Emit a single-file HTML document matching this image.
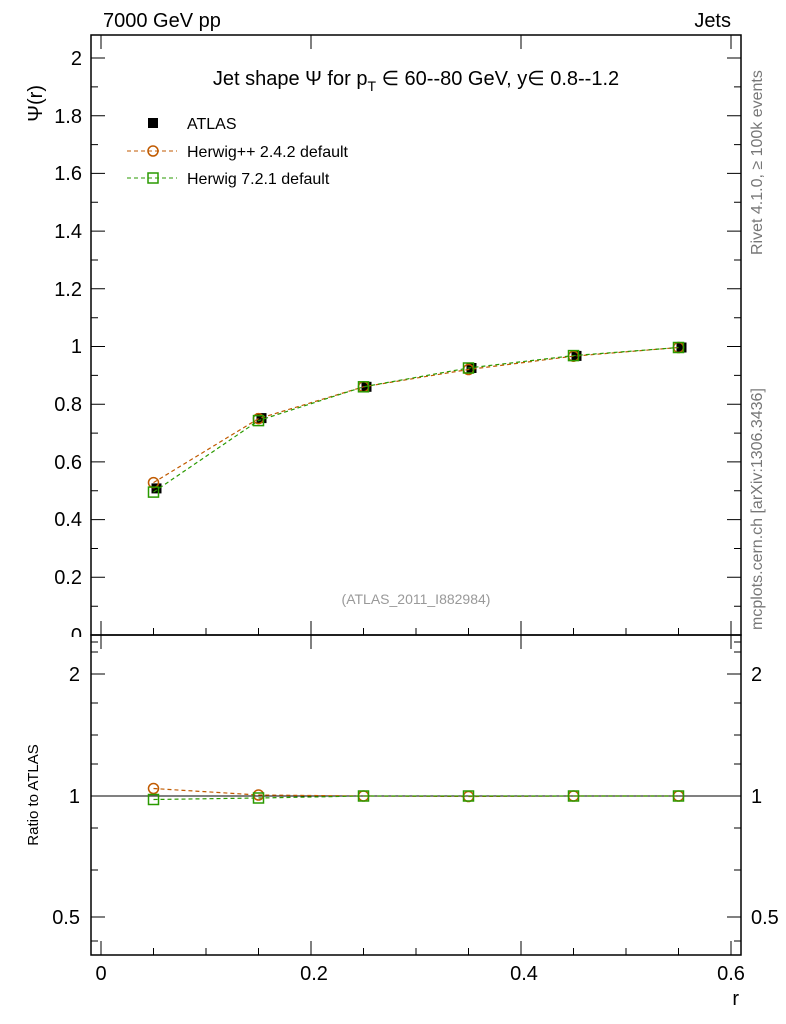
<!DOCTYPE html>
<html><head><style>body{margin:0;background:#fff}svg{display:block}text{font-family:"Liberation Sans",sans-serif}</style></head><body>
<svg width="786" height="1024" xmlns="http://www.w3.org/2000/svg">
<rect width="786" height="1024" fill="#fff"/>
<text x="103" y="27" font-size="20">7000 GeV pp</text>
<text x="731" y="27" font-size="20" text-anchor="end">Jets</text>
<rect x="91" y="35" width="650" height="600" fill="none" stroke="#000" stroke-width="1.5"/>
<rect x="91" y="635" width="650" height="320" fill="none" stroke="#000" stroke-width="1.5"/>
<g stroke="#000" stroke-width="1">
<path d="M101,635v-14M311,635v-14M521,635v-14M731,635v-14M101,35v14M311,35v14M521,35v14M731,35v14
M101,955v-14M311,955v-14M521,955v-14M731,955v-14M101,635v14M311,635v14M521,635v14M731,635v14
M153.5,635v-7M206,635v-7M258.5,635v-7M363.5,635v-7M416,635v-7M468.5,635v-7M573.5,635v-7M626,635v-7M678.5,635v-7
M153.5,955v-7M206,955v-7M258.5,955v-7M363.5,955v-7M416,955v-7M468.5,955v-7M573.5,955v-7M626,955v-7M678.5,955v-7"/>
<path d="M91,635h14M91,577.3h14M91,519.6h14M91,461.9h14M91,404.2h14M91,346.5h14M91,288.8h14M91,231.1h14M91,173.4h14M91,115.7h14M91,58h14
M741,635h-14M741,577.3h-14M741,519.6h-14M741,461.9h-14M741,404.2h-14M741,346.5h-14M741,288.8h-14M741,231.1h-14M741,173.4h-14M741,115.7h-14M741,58h-14
M91,606.2h7M91,548.5h7M91,490.8h7M91,433.1h7M91,375.4h7M91,317.7h7M91,260h7M91,202.3h7M91,144.6h7M91,86.9h7
M741,606.2h-7M741,548.5h-7M741,490.8h-7M741,433.1h-7M741,375.4h-7M741,317.7h-7M741,260h-7M741,202.3h-7M741,144.6h-7M741,86.9h-7"/>
<path d="M91,674h14M91,796h14M91,917h14M741,674h-14M741,796h-14M741,917h-14
M91,652h7M91,642h7M91,703h7M91,735h7M91,764h7M91,828h7M91,870h7M91,941h7
M741,652h-7M741,642h-7M741,703h-7M741,735h-7M741,764h-7M741,828h-7M741,870h-7M741,941h-7"/>
<path d="M91,796H741"/>
</g>
<g font-size="20" text-anchor="end">
<text x="82" y="642">0</text><text x="82" y="584">0.2</text><text x="82" y="526">0.4</text><text x="82" y="469">0.6</text><text x="82" y="411">0.8</text><text x="82" y="353">1</text><text x="82" y="296">1.2</text><text x="82" y="238">1.4</text><text x="82" y="180">1.6</text><text x="82" y="123">1.8</text><text x="82" y="65">2</text>
<text x="80" y="681">2</text><text x="80" y="803">1</text><text x="80" y="924">0.5</text>
</g>
<rect x="60" y="637" width="28" height="12" fill="#fff"/>
<g font-size="20">
<text x="751" y="681">2</text><text x="751" y="803">1</text><text x="751" y="924">0.5</text>
</g>
<g font-size="20" text-anchor="middle">
<text x="101" y="980">0</text><text x="314" y="980">0.2</text><text x="524" y="980">0.4</text><text x="731" y="980">0.6</text>
</g>
<text x="739" y="1005" font-size="20" text-anchor="end">r</text>
<text transform="translate(42,85) rotate(-90)" font-size="20" text-anchor="end">Ψ(r)</text>
<text transform="translate(38,795) rotate(-90)" font-size="15" text-anchor="middle">Ratio to ATLAS</text>
<text transform="translate(762,255) rotate(-90)" font-size="16" fill="#777">Rivet 4.1.0, ≥ 100k events</text>
<text transform="translate(762,630) rotate(-90)" font-size="16" fill="#777">mcplots.cern.ch [arXiv:1306.3436]</text>
<text x="416" y="85" font-size="20" text-anchor="middle">Jet shape Ψ for p<tspan font-size="14" dy="6">T</tspan><tspan dy="-6"> ∈ 60--80 GeV, y∈ 0.8--1.2</tspan></text>
<text x="416" y="604" font-size="14" fill="#999" text-anchor="middle">(ATLAS_2011_I882984)</text>
<rect x="148" y="118" width="10" height="10" fill="#000"/>
<text x="187" y="129" font-size="16">ATLAS</text>
<path d="M127,151h50" stroke="#c05a00" stroke-dasharray="4,3"/><circle cx="153" cy="151" r="5" fill="none" stroke="#c05a00" stroke-width="1.5"/>
<text x="187" y="157" font-size="16">Herwig++ 2.4.2 default</text>
<path d="M127,178h50" stroke="#2a9a00" stroke-dasharray="4,3"/><rect x="148" y="173" width="10" height="10" fill="none" stroke="#2a9a00" stroke-width="1.5"/>
<text x="187" y="184" font-size="16">Herwig 7.2.1 default</text>
<g fill="#000">
<rect x="151.5" y="483.4" width="10" height="10"/><rect x="256.5" y="413.1" width="10" height="10"/><rect x="361.5" y="381.8" width="10" height="10"/><rect x="466.5" y="363" width="10" height="10"/><rect x="571.5" y="350.9" width="10" height="10"/><rect x="676.5" y="342.5" width="10" height="10"/>
</g>
<polyline fill="none" stroke="#c05a00" stroke-dasharray="4,3" stroke-width="1.2" points="153.5,482.6 258.5,418.6 363.5,386.8 468.5,369.5 573.5,356.2 678.5,347.5"/>
<polyline fill="none" stroke="#2a9a00" stroke-dasharray="4,3" stroke-width="1.2" points="153.5,492.1 258.5,420.6 363.5,386.8 468.5,368 573.5,355.6 678.5,347.5"/>
<g fill="none" stroke="#c05a00" stroke-width="1.5">
<circle cx="153.5" cy="482.6" r="5"/><circle cx="258.5" cy="418.6" r="5"/><circle cx="363.5" cy="386.8" r="5"/><circle cx="468.5" cy="369.5" r="5"/><circle cx="573.5" cy="356.2" r="5"/><circle cx="678.5" cy="347.5" r="5"/>
</g>
<g fill="none" stroke="#2a9a00" stroke-width="1.5">
<rect x="148.5" y="487.1" width="10" height="10"/><rect x="253.5" y="415.6" width="10" height="10"/><rect x="358.5" y="381.8" width="10" height="10"/><rect x="463.5" y="363" width="10" height="10"/><rect x="568.5" y="350.6" width="10" height="10"/><rect x="673.5" y="342.5" width="10" height="10"/>
</g>
<polyline fill="none" stroke="#c05a00" stroke-dasharray="4,3" stroke-width="1.2" points="153.5,788.5 258.5,795 363.5,796 468.5,796.5 573.5,796 678.5,796"/>
<polyline fill="none" stroke="#2a9a00" stroke-dasharray="4,3" stroke-width="1.2" points="153.5,799.5 258.5,798 363.5,796 468.5,796 573.5,796 678.5,796"/>
<g fill="none" stroke="#c05a00" stroke-width="1.5">
<circle cx="153.5" cy="788.5" r="5"/><circle cx="258.5" cy="795" r="5"/><circle cx="363.5" cy="796" r="5"/><circle cx="468.5" cy="796.5" r="5"/><circle cx="573.5" cy="796" r="5"/><circle cx="678.5" cy="796" r="5"/>
</g>
<g fill="none" stroke="#2a9a00" stroke-width="1.5">
<rect x="148.5" y="794.5" width="10" height="10"/><rect x="253.5" y="793" width="10" height="10"/><rect x="358.5" y="791" width="10" height="10"/><rect x="463.5" y="791" width="10" height="10"/><rect x="568.5" y="791" width="10" height="10"/><rect x="673.5" y="791" width="10" height="10"/>
</g>
</svg>
</body></html>
